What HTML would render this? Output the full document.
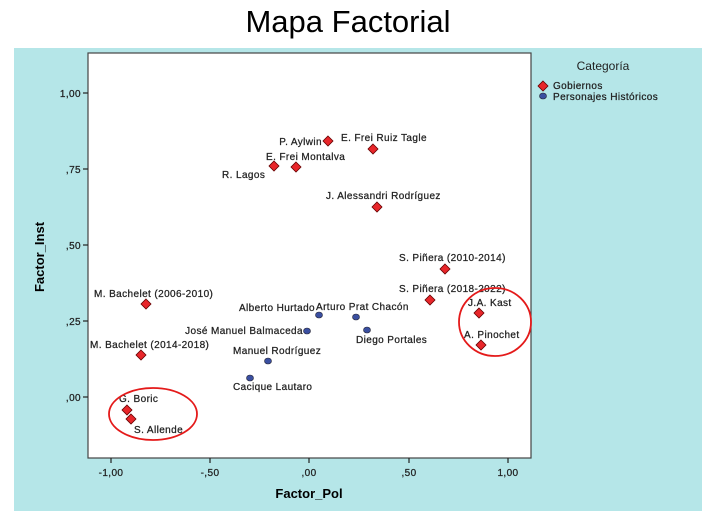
<!DOCTYPE html>
<html><head><meta charset="utf-8"><style>
body{margin:0;background:#fff;width:716px;height:523px;overflow:hidden}
svg{display:block}
text{font-family:"Liberation Sans",sans-serif}
</style></head><body>
<svg width="716" height="523" viewBox="0 0 716 523">
<text x="348" y="32" font-size="31" text-anchor="middle" fill="#000">Mapa Factorial</text>
<rect x="14" y="48" width="688" height="463" fill="#b5e6e8"/>
<rect x="88" y="53" width="443" height="405" fill="#fff" stroke="#444" stroke-width="1.2"/>
<g font-size="10" fill="#222" letter-spacing="0.4" stroke="#222" stroke-width="0.25">
<g stroke="#222" stroke-width="1.2">
<line x1="83" y1="93" x2="88" y2="93"/><line x1="83" y1="169" x2="88" y2="169"/>
<line x1="83" y1="245" x2="88" y2="245"/><line x1="83" y1="321" x2="88" y2="321"/>
<line x1="83" y1="397" x2="88" y2="397"/>
<line x1="111" y1="458" x2="111" y2="463"/><line x1="210" y1="458" x2="210" y2="463"/>
<line x1="309" y1="458" x2="309" y2="463"/><line x1="409" y1="458" x2="409" y2="463"/>
<line x1="508" y1="458" x2="508" y2="463"/>
</g>
<g text-anchor="end"><text x="81" y="97">1,00</text><text x="81" y="173">,75</text><text x="81" y="249">,50</text><text x="81" y="325">,25</text><text x="81" y="401">,00</text></g>
<g text-anchor="middle"><text x="111" y="476">-1,00</text><text x="210" y="476">-,50</text><text x="309" y="476">,00</text><text x="409" y="476">,50</text><text x="508" y="476">1,00</text></g>
</g>
<text x="309" y="498" font-size="13" font-weight="bold" text-anchor="middle">Factor_Pol</text>
<text transform="translate(44,257) rotate(-90)" font-size="13" font-weight="bold" text-anchor="middle">Factor_Inst</text>
<text x="603" y="70" font-size="12" text-anchor="middle" fill="#222">Categoría</text>
<path d="M543,81 l5,5 l-5,5 l-5,-5z" fill="#e8262a" stroke="#600" stroke-width="0.8"/>
<ellipse cx="543" cy="96" rx="3.5" ry="3" fill="#3a4fa0" stroke="#223" stroke-width="0.6"/>
<g font-size="10" fill="#222" letter-spacing="0.4" stroke="#222" stroke-width="0.25"><text x="553" y="89">Gobiernos</text><text x="553" y="100">Personajes Históricos</text></g>
<g fill="#e8262a" stroke="#600" stroke-width="0.8">
<path d="M328,136 l5,5 l-5,5 l-5,-5z"/><path d="M373,144 l5,5 l-5,5 l-5,-5z"/>
<path d="M296,162 l5,5 l-5,5 l-5,-5z"/><path d="M274,161 l5,5 l-5,5 l-5,-5z"/>
<path d="M377,202 l5,5 l-5,5 l-5,-5z"/><path d="M445,264 l5,5 l-5,5 l-5,-5z"/>
<path d="M430,295 l5,5 l-5,5 l-5,-5z"/><path d="M479,308 l5,5 l-5,5 l-5,-5z"/>
<path d="M481,340 l5,5 l-5,5 l-5,-5z"/><path d="M146,299 l5,5 l-5,5 l-5,-5z"/>
<path d="M141,350 l5,5 l-5,5 l-5,-5z"/><path d="M127,405 l5,5 l-5,5 l-5,-5z"/>
<path d="M131,414 l5,5 l-5,5 l-5,-5z"/>
</g>
<g fill="#3a4fa0" stroke="#223" stroke-width="0.6">
<ellipse cx="319" cy="315" rx="3.5" ry="3"/><ellipse cx="356" cy="317" rx="3.5" ry="3"/>
<ellipse cx="307" cy="331" rx="3.5" ry="3"/><ellipse cx="367" cy="330" rx="3.5" ry="3"/>
<ellipse cx="268" cy="361" rx="3.5" ry="3"/><ellipse cx="250" cy="378" rx="3.5" ry="3"/>
</g>
<g font-size="10" fill="#222" letter-spacing="0.4" stroke="#222" stroke-width="0.25">
<text x="322" y="145" text-anchor="end">P. Aylwin</text>
<text x="341" y="141">E. Frei Ruiz Tagle</text>
<text x="266" y="160">E. Frei Montalva</text>
<text x="222" y="178">R. Lagos</text>
<text x="326" y="199">J. Alessandri Rodríguez</text>
<text x="399" y="261">S. Piñera  (2010-2014)</text>
<text x="399" y="292">S. Piñera  (2018-2022)</text>
<text x="468" y="306">J.A. Kast</text>
<text x="464" y="338">A. Pinochet</text>
<text x="94" y="297">M. Bachelet (2006-2010)</text>
<text x="90" y="348">M. Bachelet (2014-2018)</text>
<text x="119" y="402">G. Boric</text>
<text x="134" y="433">S. Allende</text>
<text x="315" y="311" text-anchor="end">Alberto Hurtado</text>
<text x="316" y="310">Arturo Prat Chacón</text>
<text x="303" y="334" text-anchor="end">José Manuel Balmaceda</text>
<text x="356" y="343">Diego Portales</text>
<text x="233" y="354">Manuel Rodríguez</text>
<text x="233" y="390">Cacique Lautaro</text>
</g>
<ellipse cx="153" cy="414" rx="44" ry="26" fill="none" stroke="#e41a1a" stroke-width="1.8"/>
<ellipse cx="495" cy="322" rx="36" ry="34" fill="none" stroke="#e41a1a" stroke-width="1.8"/>
</svg>
</body></html>
